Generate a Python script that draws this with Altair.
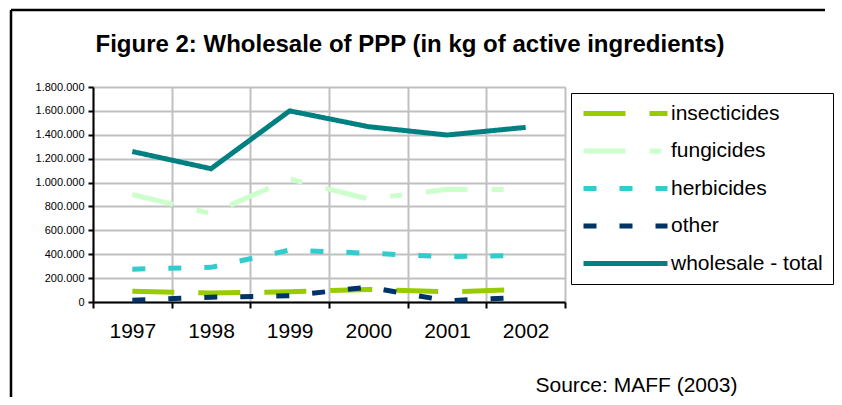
import altair as alt
import pandas as pd

years = ["1997", "1998", "1999", "2000", "2001", "2002"]
series_names = ["insecticides", "fungicides", "herbicides", "other", "wholesale - total"]
insecticides = [90000, 75000, 85000, 105000, 85000, 105000]
fungicides = [900000, 740000, 1030000, 862000, 943000, 940000]
herbicides = [275000, 290000, 435000, 408000, 380000, 390000]
other = [15000, 40000, 52000, 125000, 10000, 40000]
wholesale_total = [1260000, 1116000, 1600000, 1468000, 1398000, 1462000]
y_ticks = [0, 200000, 400000, 600000, 800000, 1000000, 1200000, 1400000, 1600000, 1800000]

colors = ["#99CC00", "#CCFFCC", "#33CCCC", "#003366", "#008080"]
dashes = [[42, 24], [42, 24, 12, 24], [13, 23], [13, 23], [1, 0]]

values = [insecticides, fungicides, herbicides, other, wholesale_total]
rows = []
for name, vals in zip(series_names, values):
    for yr, v in zip(years, vals):
        rows.append({"year": yr, "series": name, "value": v})
df = pd.DataFrame(rows)

FONT = "Liberation Sans"

legend = alt.Legend(
    title=None, orient="none", legendX=478, legendY=6,
    symbolType="stroke", symbolSize=7056, symbolStrokeWidth=5, clipHeight=21,
    labelFontSize=21, labelFont=FONT, labelColor="black", labelLimit=400,
    strokeColor="black", fillColor="white", padding=10, rowPadding=15.5,
    labelOffset=1, symbolOffset=0,
)

lines = alt.Chart(df).mark_line(strokeWidth=5).encode(
    x=alt.X(
        "year:O", sort=years, bandPosition=0.5,
        scale=alt.Scale(type="band", paddingInner=0, paddingOuter=0),
        axis=alt.Axis(
            tickBand="extent", labelAngle=0, labelFontSize=21, labelFont=FONT,
            labelColor="black", labelPadding=12, tickSize=6, tickWidth=2,
            tickColor="black", domainColor="black", domainWidth=2,
            grid=True, gridColor="#C0C0C0", gridWidth=2,
            title="Source: MAFF (2003)", titleX=442, titleY=83, titleAlign="left",
            titleBaseline="middle", titleFontSize=21, titleFontWeight="normal",
            titleFont=FONT, titleColor="black",
        ),
    ),
    y=alt.Y(
        "value:Q", scale=alt.Scale(domain=[0, 1800000], nice=False),
        axis=alt.Axis(
            values=y_ticks,
            labelExpr="replace(format(datum.value, ','), regexp(',', 'g'), '.')",
            labelFontSize=11, labelFont=FONT, labelColor="black", labelPadding=4,
            tickSize=5, tickWidth=2, tickColor="black",
            domainColor="black", domainWidth=2,
            grid=True, gridColor="#C0C0C0", gridWidth=2, title=None,
        ),
    ),
    color=alt.Color("series:N", sort=series_names,
                    scale=alt.Scale(domain=series_names, range=colors), legend=legend),
    strokeDash=alt.StrokeDash("series:N", sort=series_names,
                              scale=alt.Scale(domain=series_names, range=dashes), legend=legend),
)

frame_data = alt.Data(values=[{}])
frame_top = alt.Chart(frame_data).mark_rule(stroke="black", strokeWidth=2.5).encode(
    x=alt.value(-82), x2=alt.value(732), y=alt.value(-77)
)
frame_left = alt.Chart(frame_data).mark_rule(stroke="black", strokeWidth=2.5).encode(
    x=alt.value(-82), y=alt.value(-77), y2=alt.value(317)
)

chart = alt.layer(lines, frame_top, frame_left).properties(
    width=472, height=215,
    autosize=alt.AutoSizeParams(type="none"),
    padding={"left": 85, "top": 79, "right": 269, "bottom": 95},
    title=alt.TitleParams(
        "Figure 2: Wholesale of PPP (in kg of active ingredients)",
        font=FONT, fontSize=24, fontWeight="bold", color="black",
        anchor="middle", frame="group", dx=81, dy=67, offset=0, baseline="alphabetic",
    ),
).configure_view(stroke="#999999", strokeWidth=2).configure(background="white")

chart.save("out.html", embed_options={"renderer": "svg", "actions": False})
